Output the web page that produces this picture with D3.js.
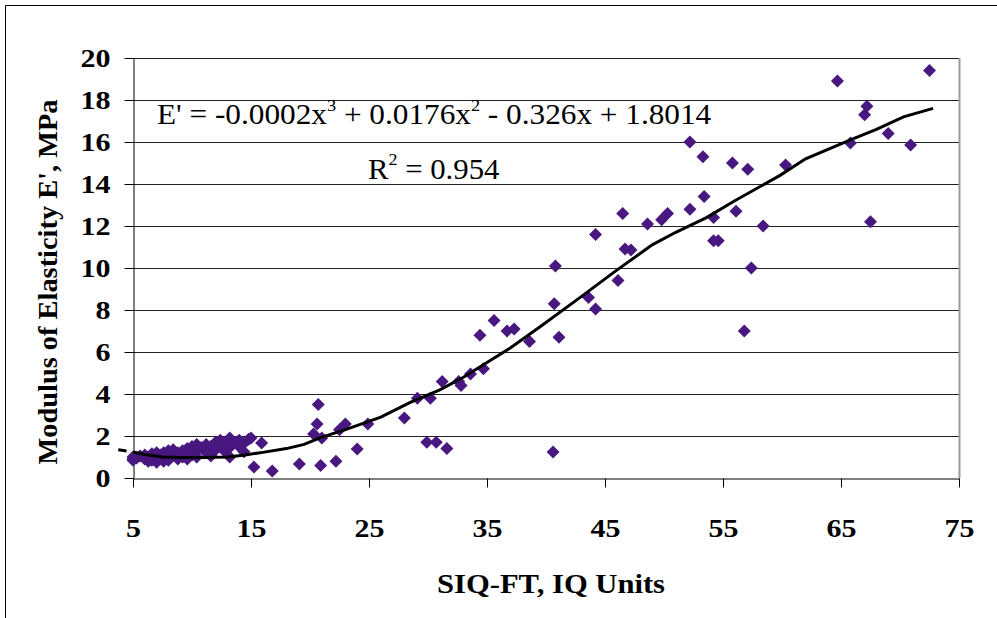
<!DOCTYPE html>
<html>
<head>
<meta charset="utf-8">
<script src="https://cdn.jsdelivr.net/npm/d3@7"></script>
<style>
  body { margin: 0; background: #fff; }
  svg text { font-family: "Liberation Serif", "Times New Roman", serif; }
</style>
</head>
<body>
<svg id="chart" width="997" height="618"></svg>
<script>
// measured points: SIQ-FT (IQ units) vs E' (MPa)
const siq = [
  5, 5, 5, 5.3, 5.6, 6, 6, 6.3, 6.3, 6.6, 6.6, 7, 7, 7, 7.3, 7.3, 7.6, 7.6,
  8, 8, 8, 8.4, 8.4, 8.8, 8.8, 9.2, 9.2, 9.6, 9.6, 10, 10, 10.4, 10.4, 10.4,
  10.8, 11.2, 11.2, 11.6, 11.6, 12, 12, 12.4, 12.4, 12.8, 12.8, 13.2, 13.2, 13.2,
  13.6, 14, 14, 14.4, 14.4, 14.8, 15, 15.25, 15.9, 16.8, 19.1,
  20.3, 20.6, 20.7, 20.9, 21, 22.2, 22.5, 23, 24, 24.9, 28, 29.1, 29.9, 30.2,
  30.7, 31.2, 31.6, 32.6, 32.8, 33.6, 34.4, 34.7, 35.6, 36.7, 37.3, 38.6,
  40.6, 40.7, 40.8, 41.1, 43.6, 44.2, 44.2, 46.1, 46.5, 46.7, 47.2, 48.6,
  49.8, 50.3, 52.2, 52.2, 53.3, 53.4, 54.2, 54.2, 54.6, 55.8, 56.1, 56.8,
  57.1, 57.4, 58.4, 60.3, 64.7, 65.8, 67, 67.2, 67.5, 69, 70.9, 72.5
];
const modulus = [
  0.85, 1.0, 0.9, 0.95, 1.05, 0.9, 1.1, 0.8, 1.0, 0.85, 1.15, 0.75, 1.0, 1.2, 0.9, 1.1, 0.8, 1.2,
  1.0, 1.3, 0.85, 1.1, 1.35, 0.9, 1.2, 1.3, 1.0, 1.4, 0.9, 1.1, 1.5, 1.3, 1.6, 1.0,
  1.45, 1.2, 1.6, 1.5, 1.05, 1.35, 1.7, 1.5, 1.8, 1.25, 1.6, 1.9, 1.45, 1.0,
  1.7, 1.5, 1.8, 1.65, 1.25, 1.85, 1.9, 0.52, 1.67, 0.33, 0.67,
  2.1, 2.57, 3.5, 0.6, 1.9, 0.8, 2.3, 2.57, 1.38, 2.57, 2.86, 3.8, 1.7, 3.8,
  1.7, 4.6, 1.4, 4.6, 4.4, 4.95, 6.8, 5.2, 7.5, 7.0, 7.1, 6.5,
  1.24, 8.3, 10.1, 6.7, 8.6, 11.6, 8.05, 9.4, 12.6, 10.9, 10.86, 12.1,
  12.3, 12.6, 16.0, 12.8, 15.3, 13.4, 12.4, 11.3, 11.3, 15.0, 12.7, 7.0,
  14.7, 10.0, 12.0, 14.9, 18.9, 15.95, 17.3, 17.7, 12.2, 16.4, 15.86, 19.4
];

// fitted trend curve as drawn
const trendX = [5, 6, 7.5, 9, 11, 13, 14.5, 16, 18, 19.5, 21, 23, 26, 28.5, 31, 33, 35, 37,
  39.5, 42.9, 46, 49, 51, 53.6, 56, 59.8, 62, 65.8, 68, 70.3, 72.8];
const trendY = [1.24, 1.12, 1.0, 0.98, 0.98, 1.0, 1.1, 1.22, 1.4, 1.6, 1.95, 2.3, 2.9, 3.6, 4.2,
  4.8, 5.5, 6.2, 7.2, 8.6, 9.9, 11.1, 11.7, 12.4, 13.2, 14.4, 15.2, 16.1, 16.6, 17.2, 17.6];

const xTicks = [5, 15, 25, 35, 45, 55, 65, 75];
const yTicks = [0, 2, 4, 6, 8, 10, 12, 14, 16, 18, 20];

const svg = d3.select("#chart");
const plotLeft = 133, plotRight = 959, plotTop = 58, plotBottom = 478;

const x = d3.scaleLinear().domain([5, 75]).range([plotLeft, plotRight]);
const y = d3.scaleLinear().domain([0, 20]).range([plotBottom, plotTop]);

// stretch a text horizontally so it covers a given width from its start
function fitWidth(t, target, ax, ay) {
  const w = t.node().getBBox().width;
  const k = target / w;
  t.attr("transform", "translate(" + ax + "," + ay + ") scale(" + k + ",1) translate(" + (-ax) + "," + (-ay) + ")");
}

// outer frame (left and top edges only)
svg.append("path")
  .attr("d", "M5.5,618 V5.5 H997")
  .attr("fill", "none")
  .attr("stroke", "#000")
  .attr("stroke-width", 1);

// gridlines
svg.append("g")
  .selectAll("line")
  .data(yTicks.slice(1))
  .enter()
  .append("line")
  .attr("x1", plotLeft).attr("x2", plotRight)
  .attr("y1", d => Math.round(y(d)) + 0.5)
  .attr("y2", d => Math.round(y(d)) + 0.5)
  .attr("stroke", "#222")
  .attr("stroke-width", 1);

// right edge of plot area
svg.append("line")
  .attr("x1", plotRight + 0.5).attr("x2", plotRight + 0.5)
  .attr("y1", plotTop).attr("y2", plotBottom)
  .attr("stroke", "#999").attr("stroke-width", 2);

// axes
const xAxis = svg.append("g")
  .attr("transform", "translate(0," + (plotBottom + 0.5) + ")")
  .call(d3.axisBottom(x).tickValues(xTicks).tickSize(9).tickSizeOuter(0).tickPadding(32));
const yAxis = svg.append("g")
  .attr("transform", "translate(" + (plotLeft + 0.5) + ",0)")
  .call(d3.axisLeft(y).tickValues(yTicks).tickSize(9).tickSizeOuter(0).tickPadding(14));

[xAxis, yAxis].forEach(function(ax) {
  ax.attr("font-family", "'Liberation Serif', serif");
  ax.selectAll("path").attr("stroke", "#000");
  ax.selectAll("line").attr("stroke", "#000");
  ax.selectAll("text")
    .attr("fill", "#000")
    .style("font-family", "'Liberation Serif', serif")
    .style("font-weight", "bold")
    .style("font-size", "25px")
    .attr("textLength", function() { return this.textContent.length * 15; })
    .attr("lengthAdjust", "spacingAndGlyphs");
});

// markers
svg.append("g")
  .selectAll("path")
  .data(siq.map((d, i) => [d, modulus[i]]))
  .enter()
  .append("path")
  .attr("d", d => {
    const cx = x(d[0]), cy = y(d[1]), r = 6.5;
    return "M" + cx + "," + (cy - r) + "L" + (cx + r) + "," + cy + "L" + cx + "," + (cy + r) + "L" + (cx - r) + "," + cy + "Z";
  })
  .attr("fill", "#481880");

// trend line
const line = d3.line().x(d => x(d[0])).y(d => y(d[1]));
svg.append("path")
  .datum(trendX.map((d, i) => [d, trendY[i]]))
  .attr("d", line)
  .attr("fill", "none")
  .attr("stroke", "#000")
  .attr("stroke-width", 3);

// short backward extension of the trend
svg.append("line")
  .attr("x1", x(3.75)).attr("y1", y(1.35))
  .attr("x2", x(4.45)).attr("y2", y(1.29))
  .attr("stroke", "#000").attr("stroke-width", 3);

// equation and R²
const eq = svg.append("text")
  .attr("x", 157).attr("y", 124)
  .style("font-size", "29px")
  .attr("fill", "#000");
eq.append("tspan").text("E' = -0.0002x");
eq.append("tspan").text("3").attr("dy", -13).style("font-size", "17px");
eq.append("tspan").text(" + 0.0176x").attr("dy", 13);
eq.append("tspan").text("2").attr("dy", -13).style("font-size", "17px");
eq.append("tspan").text(" - 0.326x + 1.8014").attr("dy", 13);
fitWidth(eq, 555, 157, 124);

const r2 = svg.append("text")
  .attr("x", 368).attr("y", 179)
  .style("font-size", "29px")
  .attr("fill", "#000");
r2.append("tspan").text("R");
r2.append("tspan").text("2").attr("dy", -14).style("font-size", "17px");
r2.append("tspan").text(" = 0.954").attr("dy", 14);
fitWidth(r2, 132, 368, 179);

// axis titles
svg.append("text")
  .attr("x", 551).attr("y", 593)
  .attr("text-anchor", "middle")
  .style("font-size", "27px")
  .style("font-weight", "bold")
  .attr("textLength", 228)
  .attr("lengthAdjust", "spacingAndGlyphs")
  .text("SIQ-FT, IQ Units");

svg.append("text")
  .attr("transform", "translate(57,282) rotate(-90)")
  .attr("text-anchor", "middle")
  .style("font-size", "27px")
  .style("font-weight", "bold")
  .attr("textLength", 365)
  .attr("lengthAdjust", "spacingAndGlyphs")
  .text("Modulus of Elasticity E', MPa");
</script>
</body>
</html>
